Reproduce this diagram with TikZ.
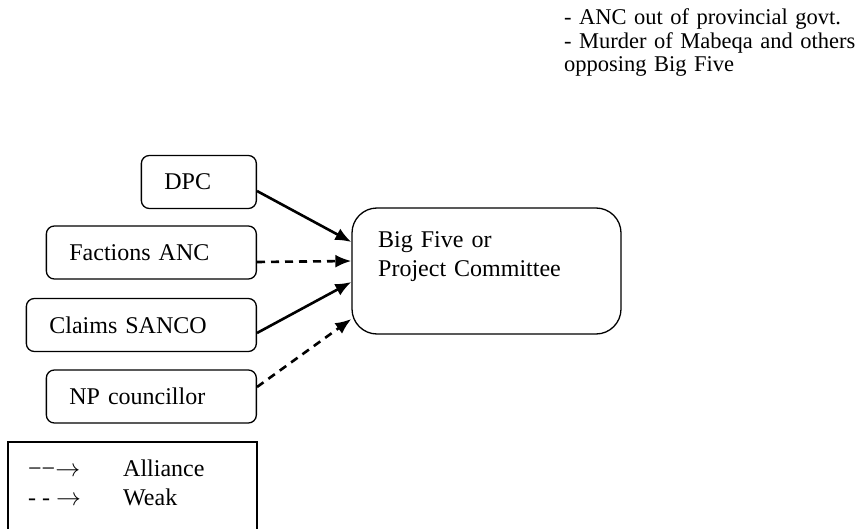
\documentclass[tikz,border=0pt]{standalone}
\usepackage{fontspec}
\setmainfont{Liberation Serif}
\usetikzlibrary{arrows.meta}
\begin{document}
\begin{tikzpicture}[x=1pt, y=1pt,
  every node/.style={font=\fontsize{24}{29}\selectfont},
  actor/.style={draw, line width=1.3pt, rounded corners=8pt, minimum height=53pt, inner xsep=23pt, align=left, anchor=east},
  link/.style={line width=2.6pt, -{Latex[length=16pt,width=13pt]}},
  weak/.style={link, dash pattern=on 8pt off 6pt}]
\useasboundingbox (0,0) rectangle (866,-529);
\node[anchor=base west, text width=330pt, align=left, inner sep=0pt, font=\fontsize{22.5}{23.5}\selectfont] (notes) at (564,-25) {- ANC out of provincial govt.\\- Murder of Mabeqa and others\\opposing Big Five};
\node[actor, text width=69pt] (dpc) at (257,-182) {DPC};
\node[actor, text width=164pt] (fac) at (257,-252.5) {Factions ANC};
\node[actor, text width=184pt] (san) at (257,-325) {Claims SANCO};
\node[actor, text width=164pt] (np) at (257,-396.5) {NP councillor};
\node[draw, line width=1.3pt, rounded corners=25pt, minimum width=269pt, minimum height=126pt] (big) at (486.5,-271) {};
\node[anchor=base west, text width=230pt, inner sep=0pt] (bigtxt) at (378,-247) {Big Five or\\Project Committee};
\draw[link] ([yshift=-9pt]dpc.east) -- ([yshift=29pt]big.west);
\draw[weak] ([yshift=-9.5pt]fac.east) -- ([yshift=10pt]big.west);
\draw[link] ([yshift=-8pt]san.east) -- ([yshift=-11pt]big.west);
\draw[weak] ([yshift=9.5pt]np.east) -- ([yshift=-48pt]big.west);
% key
\draw[line width=1.3pt] (8,-529) -- (8,-442) -- (257,-442) -- (257,-529);
\node[anchor=base west, inner sep=0pt] (keyA) at (28,-476) {−−$\rightarrow$};
\node[anchor=base west, inner sep=0pt] (lblA) at (123,-476) {Alliance};
\node[anchor=base west, inner sep=0pt] (keyB) at (28,-505) {- - $\rightarrow$};
\node[anchor=base west, inner sep=0pt] (lblB) at (123,-505) {Weak};
\end{tikzpicture}
\end{document}
